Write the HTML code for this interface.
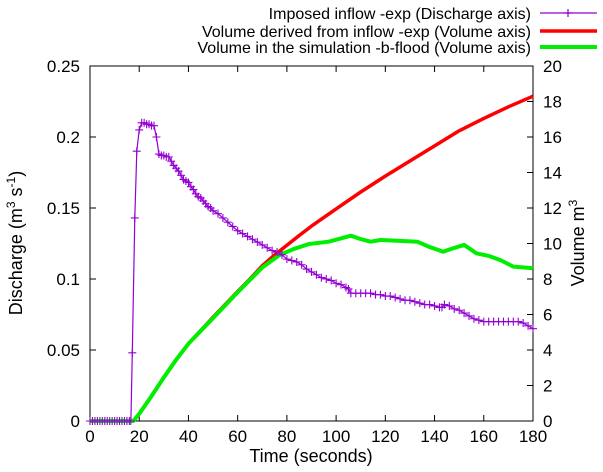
<!DOCTYPE html>
<html><head><meta charset="utf-8"><style>
html,body{margin:0;padding:0;background:#fff;}
svg{display:block;font-family:"Liberation Sans",sans-serif;}
</style></head><body>
<svg id="c" width="603" height="472"></svg>
<script>
const xTicks=[0,20,40,60,80,100,120,140,160,180];
const yTicks=["0","0.05","0.1","0.15","0.2","0.25"];
const y2Ticks=[0,2,4,6,8,10,12,14,16,18,20];
const qT=[0,1,2,3,4,5,6,7,8,9,10,11,12,13,14,15,16,16.6,17.2,18.2,19,20,21,22,23,24,25,26,27,28,29,30,31,32,33,34,35,36,37,38,39,40,41,42,43,44,45,46,47,48,49,50,52,54,56,58,60,62,64,66,68,70,72,74,76,78,80,82,84,86,88,90,92,94,96,98,100,102,104,105,106,108,110,112,114,116,118,120,122,124,126,128,130,132,134,136,138,140,142,143,144,146,148,150,152,154,156,158,160,162,164,166,168,170,172,174,176,178,180];
const qV=[0,0,0,0,0,0,0,0,0,0,0,0,0,0,0,0,0,0,0.048,0.143,0.19,0.205,0.21,0.21,0.209,0.209,0.208,0.208,0.2,0.188,0.187,0.187,0.186,0.186,0.183,0.18,0.178,0.176,0.173,0.17,0.169,0.168,0.165,0.163,0.16,0.158,0.157,0.155,0.153,0.151,0.15,0.148,0.146,0.143,0.14,0.137,0.134,0.132,0.13,0.128,0.126,0.124,0.122,0.12,0.119,0.117,0.114,0.113,0.112,0.11,0.107,0.105,0.103,0.101,0.1,0.099,0.097,0.096,0.094,0.093,0.09,0.09,0.09,0.09,0.09,0.089,0.089,0.088,0.088,0.087,0.086,0.085,0.085,0.084,0.083,0.082,0.082,0.081,0.08,0.08,0.082,0.081,0.079,0.078,0.076,0.074,0.072,0.071,0.07,0.07,0.07,0.07,0.07,0.07,0.07,0.07,0.069,0.067,0.065,0.062,0.06];
const rT=[0,17.6,20,25,30,35,40,50,60,65,70,75,80,85,90,100,110,120,130,140,150,160,170,180];
const rV=[0,0,0.4,1.4,2.45,3.45,4.35,5.85,7.3,8.0,8.75,9.35,9.9,10.45,10.98,11.95,12.9,13.8,14.65,15.5,16.35,17.05,17.7,18.3];
const gT=[0,17.6,20,25,30,35,40,50,60,65,70,77,83,89,97,106,110,114,118,125,133,138,143.5,148,152,157,162,167,172,179,180];
const gV=[0,0,0.4,1.4,2.45,3.45,4.35,5.8,7.25,7.95,8.65,9.35,9.7,9.97,10.1,10.44,10.25,10.1,10.2,10.15,10.1,9.8,9.54,9.75,9.92,9.45,9.3,9.05,8.7,8.62,8.6];
const L=90,R=533,T=66,B=421,NS="http://www.w3.org/2000/svg";
const sx=t=>L+(R-L)*t/180, sy=v=>B-(B-T)*v/0.25, sy2=v=>B-(B-T)*v/20;
const svg=document.getElementById('c');
function mk(tag,a,txt){const e=document.createElementNS(NS,tag);for(const k in a)e.setAttribute(k,a[k]);if(txt!=null)e.textContent=txt;svg.appendChild(e);return e;}
let e=mk('rect',{x:L,y:T,width:R-L,height:B-T,fill:'none',stroke:'#000','stroke-width':1});


xTicks.forEach(t=>{const x=sx(t);mk('line',{x1:x,x2:x,y1:B,y2:B-6,stroke:'#000'});mk('line',{x1:x,x2:x,y1:T,y2:T+6,stroke:'#000'});
 const tx=mk('text',{x:x,y:B+21,'font-size':17,'text-anchor':'middle'},t);
 
 });
yTicks.forEach(s=>{const y=sy(parseFloat(s));mk('line',{x1:L,x2:L+6,y1:y,y2:y,stroke:'#000'});
 const tx=mk('text',{x:L-10,y:y+6,'font-size':17,'text-anchor':'end'},s);
 
 });
y2Ticks.forEach(v=>{const y=sy2(v);mk('line',{x1:R,x2:R-6,y1:y,y2:y,stroke:'#000'});
 const tx=mk('text',{x:R+10,y:y+6,'font-size':17,'text-anchor':'start'},v);
 
 });
e=mk('text',{x:311,y:462,'font-size':18,'text-anchor':'middle'},'Time (seconds)');


e=mk('text',{transform:'translate(22,243) rotate(-90)','font-size':18,'text-anchor':'middle'});
e.innerHTML='Discharge (m<tspan dy="-7" font-size="12">3</tspan><tspan dy="7"> s</tspan><tspan dy="-7" font-size="12">-1</tspan><tspan dy="7">)</tspan>';


e=mk('text',{transform:'translate(584,243) rotate(-90)','font-size':18,'text-anchor':'middle'});
e.innerHTML='Volume m<tspan dy="-7" font-size="12">3</tspan>';


function line(ts,vs,f,col,w,name){const d=ts.map((t,i)=>(i?'L':'M')+sx(t).toFixed(1)+','+f(vs[i]).toFixed(1)).join('');
 const p=mk('path',{d:d,fill:'none',stroke:col,'stroke-width':w,'stroke-linejoin':'round'});
 
 }
line(rT,rV,sy2,'#ff0000',3.5,'volume-derived-line');
line(gT,gV,sy2,'#00ee00',4,'volume-simulation-line');
line(qT,qV,sy,'#9400d3',1.2,'imposed-inflow-line');
qT.forEach((t,i)=>{const x=sx(t),y=sy(qV[i]);
 const m=mk('path',{d:`M${x-4},${y}h8M${x},${y-4}v8`,stroke:'#9400d3','stroke-width':1.1});
 
 });
const leg=[['Imposed inflow -exp (Discharge axis)','#9400d3',1.3,13],['Volume derived from inflow -exp (Volume axis)','#ff0000',3.5,31],['Volume in the simulation -b-flood (Volume axis)','#00ee00',4,47]];
leg.forEach((g,i)=>{const tx=mk('text',{x:531,y:g[3]+6,'font-size':16,'text-anchor':'end'},g[0]);
 
 
 const ln=mk('line',{x1:540,x2:597,y1:g[3],y2:g[3],stroke:g[1],'stroke-width':g[2]});
 
 
 if(i==0){const m=mk('path',{d:`M564,${g[3]}h8M568,${g[3]-4}v8`,stroke:g[1],'stroke-width':1.2});
  
  }});
</script>
</body></html>
